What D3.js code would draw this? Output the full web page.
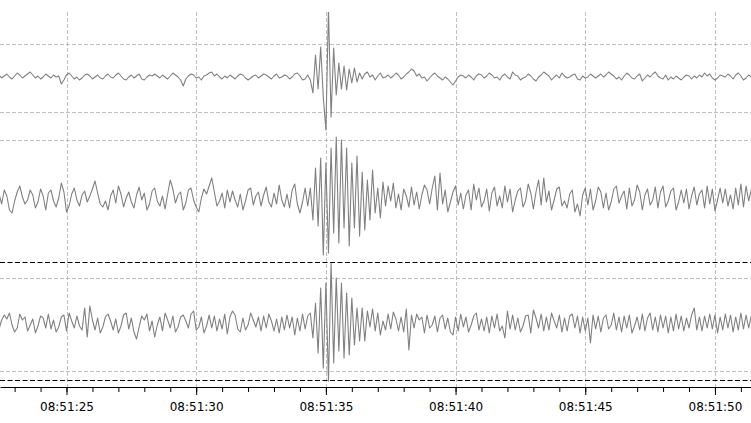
<!DOCTYPE html>
<html>
<head>
<meta charset="utf-8">
<script src="https://cdn.jsdelivr.net/npm/d3@7"></script>
<style>
html, body { margin: 0; padding: 0; background: #ffffff; }
svg { display: block; }
</style>
</head>
<body>
<svg id="chart" width="751" height="423"></svg>
<script>
// ---------------- DATA ----------------
const traceStart = "2000-01-01T08:51:22.400Z";   // first sample
const sampleInterval = 0.1;                        // seconds between samples
const viewStart = "2000-01-01T08:51:22.436Z";
const viewEnd = "2000-01-01T08:51:51.390Z";

// three components, amplitudes (counts), one value per sample
const traceTop = [
  2,-1,1,3,0,-2,1,4,2,-1,
  1,3,5,2,-1,1,-2,0,3,1,
  -1,2,0,1,-7,-3,2,4,1,-2,
  0,-3,-1,2,3,1,-2,0,2,-1,
  -2,1,3,0,-1,2,4,1,-2,-3,
  0,2,-1,1,3,-2,-3,0,2,1,
  3,1,-1,2,0,-2,1,4,2,0,
  -3,-9,-2,1,3,2,-1,0,-3,1,
  2,4,5,1,3,0,-2,1,-1,2,
  0,-2,1,3,2,-1,-3,-1,1,2,
  -1,1,3,2,0,-2,1,3,-1,0,
  2,1,-2,0,3,4,1,-3,-2,2,
  -3,-16,22,-12,30,-20,-53,68,-40,29,
  -18,14,-12,11,-13,8,-6,9,-5,4,
  -2,3,5,0,2,-3,1,4,-1,0,
  2,-1,1,4,2,-2,0,3,5,8,
  6,1,3,-1,0,-4,-1,2,4,1,
  -1,-3,0,-2,-5,-8,-4,0,2,1,
  -1,2,0,-3,1,3,2,-1,1,4,
  2,-1,0,-3,1,3,0,-2,5,2,
  1,-3,-1,0,3,1,-2,-4,0,2,
  5,3,1,-3,0,2,-1,4,1,-1,
  0,2,3,-2,-3,1,-1,0,3,1,
  -1,1,3,0,2,5,3,1,-2,0,
  -3,1,4,2,-1,-2,1,3,-4,-1,
  2,0,3,5,1,-1,-2,2,-3,0,
  -2,1,-1,-3,0,2,1,-2,1,-1,
  2,0,4,1,3,-1,-3,-1,2,1,
  0,3,1,-2,2,4,1,-3,-1,2,
  0
];

const traceMiddle = [
  4,-6,8,2,-12,-15,-3,6,12,1,
  -6,-2,8,3,-10,-4,9,2,-12,5,
  8,-3,-9,0,15,6,-14,-8,4,10,
  -2,-8,3,7,-4,2,9,17,5,-6,
  -9,-3,-12,2,8,-5,12,4,-9,0,
  6,-4,-10,3,11,-2,5,-12,-6,7,
  10,-3,-8,2,-11,4,18,9,-5,3,
  6,-12,-5,8,10,-2,-9,-14,0,9,
  4,12,20,6,-8,-3,5,-10,8,-4,
  7,-2,-9,4,-12,-3,8,10,-7,2,
  6,-8,3,11,-4,-9,5,-6,13,-2,
  -9,4,-10,8,14,-6,-15,-4,10,-8,
  10,-22,30,-28,40,-57,35,-55,50,-35,
  61,-45,58,-30,50,-48,35,-30,42,-38,
  26,-32,18,-22,28,-15,10,-20,16,-8,
  12,-3,15,-10,4,-12,9,2,-9,11,
  -7,6,-11,3,13,8,-6,10,22,-12,
  25,-6,8,-14,-4,6,12,-7,5,-11,
  3,8,-12,14,-2,10,-9,-3,9,-13,
  5,11,-8,2,-10,12,-4,9,-14,-2,
  7,10,-9,-3,14,5,-11,6,18,-7,
  20,-4,7,-12,-2,9,11,-8,-3,-10,
  4,8,-14,-6,-18,3,10,-7,9,-12,
  -3,11,6,-10,5,-12,-4,9,12,-5,
  2,7,-11,10,-8,-2,13,6,-12,3,
  9,-7,-2,11,-10,6,12,-9,-3,7,
  10,-12,-4,8,-5,9,-11,2,11,-7,
  4,8,-10,12,-6,9,-13,-2,10,-5,
  9,-8,3,-11,10,-7,14,-9,12,-3,
  8
];

const traceBottom = [
  -6,3,8,4,10,-2,-9,-5,9,3,
  6,-8,-2,4,-10,-3,7,5,-5,9,
  -6,3,-9,-4,6,8,-8,10,2,-5,
  7,-3,-7,15,-14,17,3,-7,5,-10,
  -4,6,9,2,-7,4,-10,-3,8,10,
  -6,5,-9,-16,-4,7,3,9,-8,2,
  -14,-2,6,-8,10,3,-5,7,-9,-4,
  6,8,2,-5,9,12,-7,-4,6,-10,
  -3,8,-5,7,-8,4,-6,9,-11,6,
  12,8,-6,-9,5,-7,-2,10,3,-4,
  6,-8,7,-5,9,2,-8,4,-10,6,
  -7,8,-5,6,-12,5,-8,9,-6,7,
  10,-15,20,-30,35,-45,40,-58,60,-40,
  45,-28,40,-35,30,-32,25,-22,15,-18,
  15,-18,12,-4,14,-8,10,-12,2,-7,
  9,-6,11,4,-8,6,-9,14,-27,8,
  -5,9,3,6,-10,8,-5,-2,7,-9,
  5,8,-6,5,-9,-12,6,-8,9,-4,
  6,-9,-2,7,10,-7,4,-8,6,-10,
  7,-5,9,-8,-3,-15,12,-6,8,-7,
  5,-9,-3,7,8,-10,13,5,-5,9,
  -8,6,-7,10,2,-5,8,-9,5,-8,
  7,9,-5,7,-10,6,-8,5,-20,8,
  -6,7,-9,5,8,-6,-2,10,-7,6,
  -9,7,-5,8,-10,-3,6,-7,9,-8,
  5,10,-7,6,-9,8,-5,7,-10,6,
  -8,9,-6,7,-8,5,-5,8,15,-7,
  6,-8,7,-5,9,-6,8,-10,6,-7,
  9,-5,8,-9,6,-7,10,-6,8,-5,
  7
];

// horizontal grid values (counts) per trace
const gridTop = [33, -35];
const gridMiddle = [58];
const gridBottom = [45, -48];
// black dashed level lines (counts) on the lower trace
const levelBottom = [61, -57];

// ---------------- LAYOUT ----------------
const W = 751, H = 423;
const plotTop = 12, axisY = 387;
const panels = [
  { data: traceTop, center: 77, grid: gridTop, levels: [] },
  { data: traceMiddle, center: 198, grid: gridMiddle, levels: [] },
  { data: traceBottom, center: 323, grid: gridBottom, levels: levelBottom }
];

const svg = d3.select("#chart");
const parse = d3.isoParse;
const t0 = parse(traceStart).getTime();
const timeOf = i => new Date(t0 + i * sampleInterval * 1000);

const x = d3.scaleUtc()
  .domain([parse(viewStart), parse(viewEnd)])
  .range([0, W]);

svg.append("defs").append("clipPath").attr("id", "plotclip")
  .append("rect").attr("x", 0).attr("y", plotTop).attr("width", W).attr("height", axisY - plotTop);

const majorTicks = x.ticks(d3.utcSecond.every(5));
const minorTicks = x.ticks(d3.utcSecond.every(1));
const gridColor = "#b0b0b0";

// vertical grid
svg.append("g").selectAll("line").data(majorTicks).join("line")
  .attr("x1", d => Math.round(x(d)) + 0.5).attr("x2", d => Math.round(x(d)) + 0.5)
  .attr("y1", plotTop).attr("y2", axisY)
  .attr("stroke", gridColor).attr("stroke-width", 0.8).attr("stroke-dasharray", "4,2");

panels.forEach(p => {
  const y = d3.scaleLinear().domain([-100, 100]).range([p.center + 100, p.center - 100]);
  const g = svg.append("g");
  g.selectAll("line.grid").data(p.grid).join("line").attr("class", "grid")
    .attr("x1", 0).attr("x2", W)
    .attr("y1", d => Math.round(y(d)) + 0.5).attr("y2", d => Math.round(y(d)) + 0.5)
    .attr("stroke", gridColor).attr("stroke-width", 0.8).attr("stroke-dasharray", "4,2");
  g.selectAll("line.level").data(p.levels).join("line").attr("class", "level")
    .attr("x1", 0).attr("x2", W)
    .attr("y1", d => Math.round(y(d)) + 0.5).attr("y2", d => Math.round(y(d)) + 0.5)
    .attr("stroke", "#000").attr("stroke-width", 1.1).attr("stroke-dasharray", "5,2.5");
  const line = d3.line().x((d, i) => x(timeOf(i))).y(d => y(d));
  g.append("path").datum(p.data)
    .attr("d", line)
    .attr("clip-path", "url(#plotclip)")
    .attr("fill", "none").attr("stroke", "#808080").attr("stroke-width", 1.1)
    .attr("stroke-linejoin", "round");
});

// x axis
const fmt = d3.utcFormat("%H:%M:%S");
const minorAxis = svg.append("g").attr("transform", `translate(0,${axisY})`)
  .call(d3.axisBottom(x).tickValues(minorTicks).tickSize(5).tickSizeOuter(0).tickFormat(""));
minorAxis.select(".domain").attr("stroke", "#000");
const majorAxis = svg.append("g").attr("transform", `translate(0,${axisY})`)
  .call(d3.axisBottom(x).tickValues(majorTicks).tickSize(8).tickSizeOuter(0).tickPadding(7).tickFormat(fmt));
majorAxis.select(".domain").remove();
svg.selectAll(".tick line").attr("stroke", "#000");
majorAxis.selectAll("text").attr("font-family", "DejaVu Sans").attr("font-size", 12).attr("fill", "#000");
</script>
</body>
</html>
